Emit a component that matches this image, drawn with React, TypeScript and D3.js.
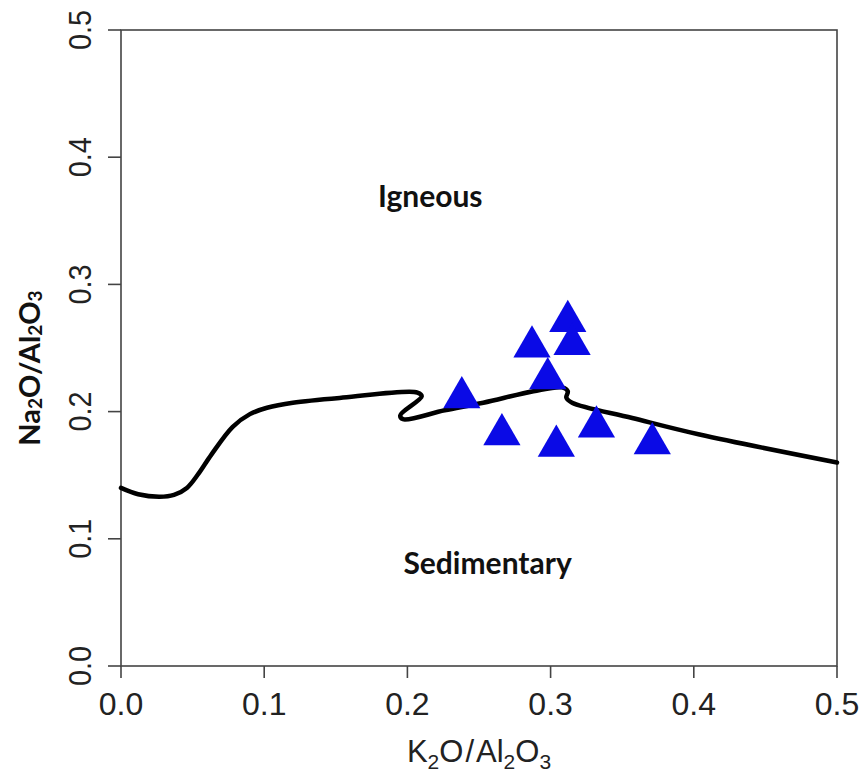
import React from "react";
import * as d3 from "d3";

// K2O/Al2O3 vs Na2O/Al2O3 samples (blue triangles)
const sampleK = [0.238, 0.266, 0.304, 0.332, 0.371, 0.287, 0.298, 0.312, 0.315];
const sampleNa = [0.211, 0.182, 0.173, 0.188, 0.175, 0.251, 0.226, 0.271, 0.253];

// igneous / sedimentary discrimination line
const lineK = [0.0, 0.012, 0.027, 0.037, 0.046, 0.054, 0.063, 0.078, 0.09, 0.102, 0.12, 0.155, 0.207, 0.21, 0.195, 0.197, 0.226, 0.253, 0.288, 0.308, 0.312, 0.311, 0.315, 0.357, 0.404, 0.5];
const lineNa = [0.14, 0.135, 0.133, 0.1345, 0.14, 0.151, 0.166, 0.188, 0.198, 0.203, 0.207, 0.211, 0.215, 0.212, 0.197, 0.194, 0.201, 0.207, 0.216, 0.219, 0.216, 0.211, 0.207, 0.195, 0.182, 0.16];

const ticks = [0, 0.1, 0.2, 0.3, 0.4, 0.5];

const fieldNames = ["Igneous", "Sedimentary"];
const fieldK = [0.216, 0.256];
const fieldNa = [0.37, 0.082];

const W = 867;
const H = 782;
const left = 121, right = 837, top = 30, bottom = 666;

export default function App() {
  const x = d3.scaleLinear().domain([0, 0.5]).range([left, right]);
  const y = d3.scaleLinear().domain([0, 0.5]).range([bottom, top]);

  const pts = lineK.map((k, i) => [k, lineNa[i]] as [number, number]);
  const path = d3
    .line<[number, number]>()
    .x((d) => x(d[0]))
    .y((d) => y(d[1]))
    .curve(d3.curveCatmullRom.alpha(0.5))(pts)!;

  const tri = d3.symbol(d3.symbolTriangle, 600)()!;
  const axisColor = "#444";
  const font = "'Liberation Sans', Arial, sans-serif";

  return (
    <svg width={W} height={H} style={{ position: "absolute", left: 0, top: 0, background: "#fff" }}>
      <rect x={left} y={top} width={right - left} height={bottom - top} fill="none" stroke={axisColor} strokeWidth={1.6} />
      {ticks.map((t) => (
        <g key={"x" + t}>
          <line x1={x(t)} x2={x(t)} y1={bottom} y2={bottom + 12} stroke={axisColor} strokeWidth={1.6} />
          <text x={x(t)} y={bottom + 49} textAnchor="middle" fontFamily={font} fontSize={32} fill="#222">
            {t.toFixed(1)}
          </text>
        </g>
      ))}
      {ticks.map((t) => (
        <g key={"y" + t}>
          <line x1={left - 13} x2={left} y1={y(t)} y2={y(t)} stroke={axisColor} strokeWidth={1.6} />
          <text
            transform={`translate(${left - 30},${y(t)}) rotate(-90) scale(0.9,1)`}
            textAnchor="middle"
            fontFamily={font}
            fontSize={32}
            fill="#222"
          >
            {t.toFixed(1)}
          </text>
        </g>
      ))}
      <text x={(left + right) / 2} y={762} textAnchor="middle" fontFamily={font} fontSize={31} fill="#222">
        K<tspan fontSize={21} dy={7}>2</tspan>
        <tspan dy={-7}>O</tspan>
        <tspan dx={2} fontWeight={300}>/</tspan>
        <tspan dx={2}>Al</tspan>
        <tspan fontSize={21} dy={7}>2</tspan>
        <tspan dy={-7}>O</tspan>
        <tspan fontSize={21} dy={7}>3</tspan>
      </text>
      <text
        transform={`translate(40,${(top + bottom) / 2 + 20}) rotate(-90)`}
        textAnchor="middle"
        fontFamily="Lato, 'Open Sans', sans-serif"
        fontWeight="bold"
        fontSize={29}
        fill="#111"
      >
        Na<tspan fontSize={19} dy={2}>2</tspan>
        <tspan dy={-2}>O/Al</tspan>
        <tspan fontSize={19} dy={2}>2</tspan>
        <tspan dy={-2}>O</tspan>
        <tspan fontSize={19} dy={2}>3</tspan>
      </text>
      <path d={path} fill="none" stroke="#000" strokeWidth={4.5} strokeLinejoin="round" strokeLinecap="round" />
      {sampleK.map((k, i) => (
        <path key={i} d={tri} transform={`translate(${x(k)},${y(sampleNa[i])})`} fill="#0a0ae6" />
      ))}
      {fieldNames.map((n, i) => (
        <text
          key={n}
          x={x(fieldK[i])}
          y={y(fieldNa[i])}
          textAnchor="middle"
          dominantBaseline="central"
          fontFamily="Lato, 'Open Sans', sans-serif"
          fontWeight="bold"
          fontSize={30}
          fill="#111"
        >
          {n}
        </text>
      ))}
    </svg>
  );
}
